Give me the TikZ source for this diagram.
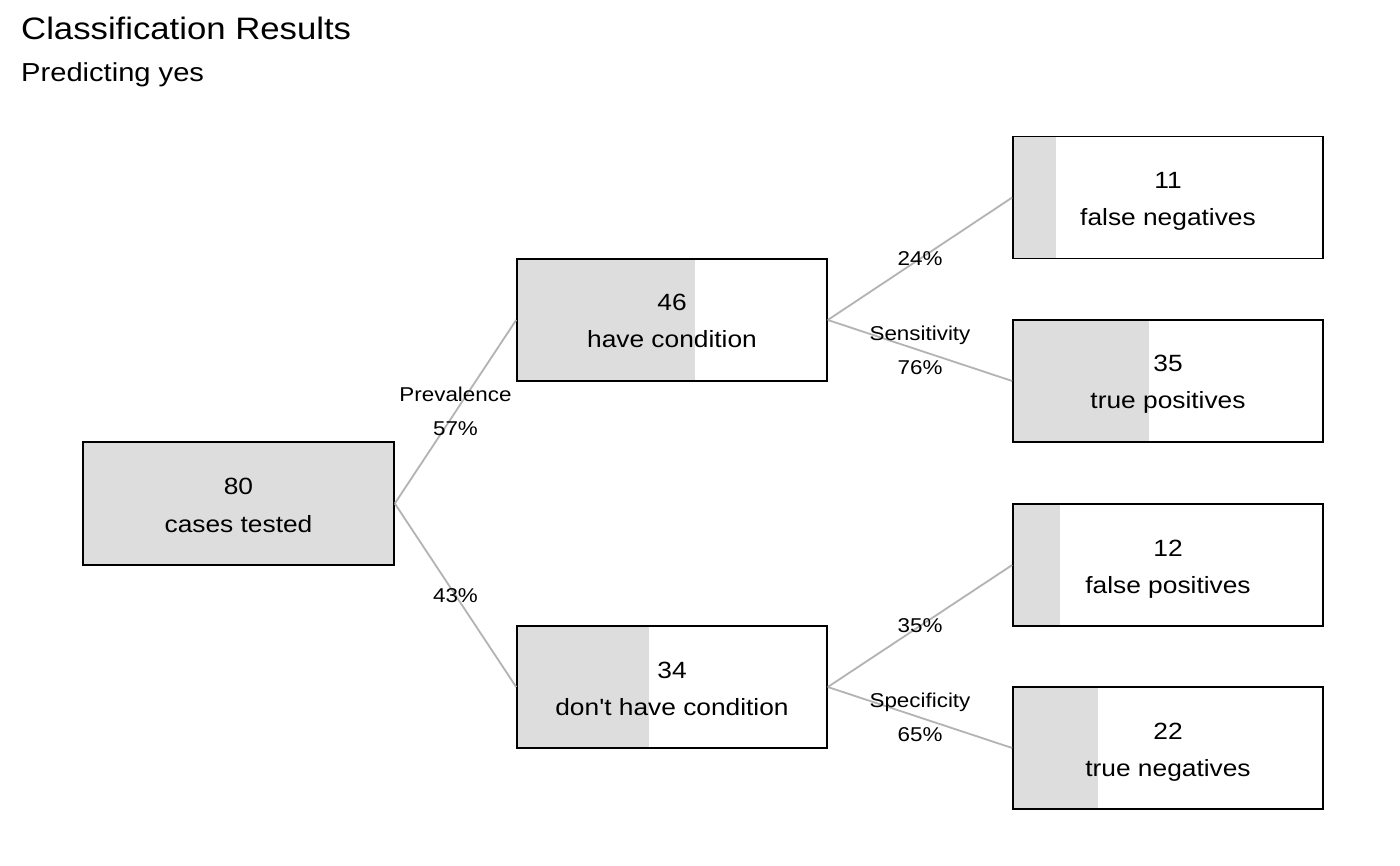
\documentclass[tikz,border=0pt]{standalone}
\usepackage{fontspec}
\newfontfamily\arialf{Liberation Sans}[FakeStretch=1.12]
\usetikzlibrary{calc}
\definecolor{fillgrey}{HTML}{DDDDDD}
\definecolor{linegrey}{HTML}{B3B3B3}
\tikzset{
  box/.style={draw=black, line width=1.6pt, minimum width=310pt, minimum height=122pt, inner sep=0pt},
  bar/.style={fill=fillgrey, draw=none},
  conn/.style={draw=linegrey, line width=1.8pt},
  ntext/.style={anchor=base, inner sep=0pt, font=\arialf\fontsize{23.5}{28}\selectfont},
  elab/.style={align=center, inner sep=0pt, font=\arialf\fontsize{20}{34}\selectfont},
  ttl/.style={anchor=base west, inner sep=0pt, font=\arialf\fontsize{31}{36}\selectfont},
  sttl/.style={anchor=base west, inner sep=0pt, font=\arialf\fontsize{26}{30}\selectfont}
}
\newcommand{\treebox}[5]{% name, cx, cy, fillwidth, number
  \fill[bar] ($(#2,#3)+(-155,-61)$) rectangle ($(#2,#3)+(-155+#4,61)$);
  \node[box] (#1) at (#2,#3) {};
  \node[ntext] (#1num) at ($(#2,#3)+(0,-9)$) {#5};
}
\begin{document}
\begin{tikzpicture}[x=1pt,y=-1pt]
\useasboundingbox (0,0) rectangle (1400,866);
\fill[white] (0,0) rectangle (1400,866);

\node[ttl] (title) at (21,40) {Classification Results};
\node[sttl] (subtitle) at (21,82) {Predicting yes};

% boxes
\fill[bar] (83,442) rectangle (394,565);
\node[box, minimum width=311pt, minimum height=123pt] (ct) at (238.5,503.5) {};
\node[ntext] (ctnum) at (238.5,494.5) {80};
\node[ntext] (cttxt) at (238.5,532) {cases tested};

\treebox{hc}{672}{320}{178.25}{46}
\node[ntext] (hctxt) at (672,348) {have condition};

\treebox{dh}{672}{687}{131.75}{34}
\node[ntext] (dhtxt) at (672,715) {don't have condition};

\treebox{fn}{1168}{197.5}{42.6}{11}
\node[ntext] (fntxt) at (1168,225.5) {false negatives};

\treebox{tp}{1168}{381}{135.6}{35}
\node[ntext] (tptxt) at (1168,409) {true positives};

\treebox{fp}{1168}{565}{46.5}{12}
\node[ntext] (fptxt) at (1168,593) {false positives};

\treebox{tn}{1168}{748}{85.25}{22}
\node[ntext] (tntxt) at (1168,776) {true negatives};

% connectors
\draw[conn] (ct.east) -- node[elab] (l1) {Prevalence\\57\%} (hc.west);
\draw[conn] (ct.east) -- node[elab] (l2) {43\%} (dh.west);
\draw[conn] (hc.east) -- node[elab] (l3) {24\%} (fn.west);
\draw[conn] (hc.east) -- node[elab] (l4) {Sensitivity\\76\%} (tp.west);
\draw[conn] (dh.east) -- node[elab] (l5) {35\%} (fp.west);
\draw[conn] (dh.east) -- node[elab] (l6) {Specificity\\65\%} (tn.west);
\end{tikzpicture}
\end{document}
